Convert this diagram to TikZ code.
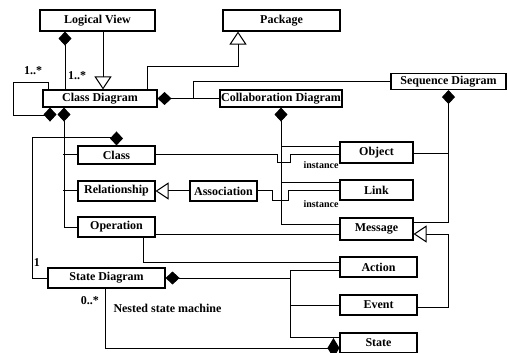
\documentclass[tikz,border=0pt]{standalone}
\usepackage{fontspec}
\setmainfont{Liberation Serif}
\usetikzlibrary{arrows.meta,calc}
\tikzset{
	box/.style={draw, line width=1.1pt, inner sep=0pt, minimum height=20pt, font=\fontsize{12}{14}\selectfont\bfseries},
	lbl/.style={inner sep=0pt, font=\fontsize{12}{14}\selectfont\bfseries},
	small/.style={inner sep=0pt, font=\fontsize{10}{12}\selectfont\bfseries},
	compstart/.style={{Diamond[length=14pt,width=13pt]}-},
	compend/.style={-{Diamond[length=14pt,width=13pt]}},
	nestend/.style={-{Diamond[length=12pt,width=20pt]}},
	genend/.style={-{Triangle[open,length=13pt,width=17pt]}}
}
\begin{document}
\begin{tikzpicture}[x=1pt,y=-1pt,line width=1pt]
	\useasboundingbox (0,0) rectangle (507,353);
	% packages and diagrams
	\node[box,minimum width=115pt,minimum height=21pt] (lv) at (97.5,20.5) {Logical View};
	\node[box,minimum width=117pt,minimum height=21pt] (pkg) at (281.5,20.5) {Package};
	\node[box,minimum width=114pt,minimum height=17pt] (cd) at (100,98.5) {Class Diagram};
	\node[box,minimum width=122pt,minimum height=17pt] (cod) at (281,98.5) {Collaboration Diagram};
	\node[box,minimum width=115pt,minimum height=16pt] (seq) at (448.5,81.5) {Sequence Diagram};
	\node[box,minimum width=117pt] (sd) at (106.5,278) {State Diagram};
	% elements
	\node[box,minimum width=77pt,minimum height=18pt] (cl) at (116.5,155) {Class};
	\node[box,minimum width=77pt] (rel) at (116.5,191) {Relationship};
	\node[box,minimum width=67pt] (asc) at (223.5,191) {Association};
	\node[box,minimum width=77pt] (op) at (116.5,227) {Operation};
	\node[box,minimum width=73pt,minimum height=21pt] (ob) at (376.5,152.5) {Object};
	\node[box,minimum width=73pt] (lk) at (376.5,190) {Link};
	\node[box,minimum width=73pt,minimum height=22pt] (msg) at (376.5,229) {Message};
	\node[box,minimum width=77pt] (ac) at (378.5,267) {Action};
	\node[box,minimum width=77pt] (ev) at (378.5,305) {Event};
	\node[box,minimum width=77pt] (st) at (378.5,343) {State};
	\coordinate (sdbus) at (290,0);
	% logical view
	\draw[compstart] ([xshift=-32.5pt]lv.south) -- ([xshift=-32.5pt]lv.south |- cd.north);
	\draw[genend] ([xshift=5.5pt]lv.south) -- ([xshift=5.5pt]lv.south |- cd.north);
	\draw[genend] ([xshift=47pt]cd.north) -- ++(0,-23) -| ([xshift=-43.5pt]pkg.south);
	% class diagram
	\draw[compstart] ([xshift=-50pt]cd.south) -- ++(0,8) -| (13,83) -| ([xshift=-52pt]cd.north);
	\draw[compstart] ([xshift=-36pt]cd.south) |- (op.west);
	\draw (cl.west) -- ++(-14.5,0);
	\draw (rel.west) -- ++(-14.5,0);
	\draw[compstart] (cd.east) -- (cod.west);
	\draw ([xshift=36pt]cd.east) |- (seq.west);
	\draw[compend] (sd.west) -| (32,138) -| (cl.north);
	\draw[genend] (asc.west) -- (rel.east);
	% collaboration and sequence
	\draw (cl.east) -- ([xshift=-4pt]cl.east -| cod.south) -- ++(0,8) -- ++(13,0) -- ++(0,-8) -- (ob.west |- cl.east);
	\draw (asc.east) -- ([xshift=-9pt]asc.east -| cod.south) -- ++(0,10) -- ++(16,0) -- ++(0,-10) -- (lk.west |- asc.east);
	\draw[compstart] (cod.south) |- ([yshift=5pt]msg.west);
	\draw ([yshift=6pt]ob.west) -- ([yshift=6pt]ob.west -| cod.south);
	\draw ([yshift=7pt]lk.west) -- ([yshift=7pt]lk.west -| cod.south);
	\draw[compstart] (seq.south) |- ([yshift=7pt]msg.east);
	\draw ([yshift=-1.5pt]ob.east) -- ([yshift=-1.5pt]ob.east -| seq.south);
	\draw[genend] ([yshift=-2pt]ev.east) -| ([yshift=-5pt]msg.east -| seq.south) -- ([yshift=-5pt]msg.east);
	\draw ([yshift=-5pt]msg.west) -- ([yshift=-5pt]msg.west -| op.east);
	\draw ([xshift=26.5pt]op.south) |- ([yshift=5pt]ac.west);
	% state diagram
	\draw[compstart] (sd.east) -- (sd.east -| sdbus);
	\draw ([yshift=-3pt]ac.west) -| ([yshift=6pt]st.west -| sdbus) -- ([yshift=6pt]st.west);
	\draw (ev.west) -- (ev.west -| sdbus);
	\draw[nestend] ([xshift=-1.5pt]sd.south) |- ([yshift=-5pt]st.west);
	% labels
	\node[lbl] (m1) at (33,71) {1..*};
	\node[lbl] (m2) at (77,76) {1..*};
	\node[lbl] (m3) at (37,263) {1};
	\node[lbl] (m4) at (90,301) {0..*};
	\node[lbl,anchor=west] (nsm) at (113,308) {Nested state machine};
	\node[small] (in1) at (321,165) {instance};
	\node[small] (in2) at (321,204) {instance};
\end{tikzpicture}
\end{document}
